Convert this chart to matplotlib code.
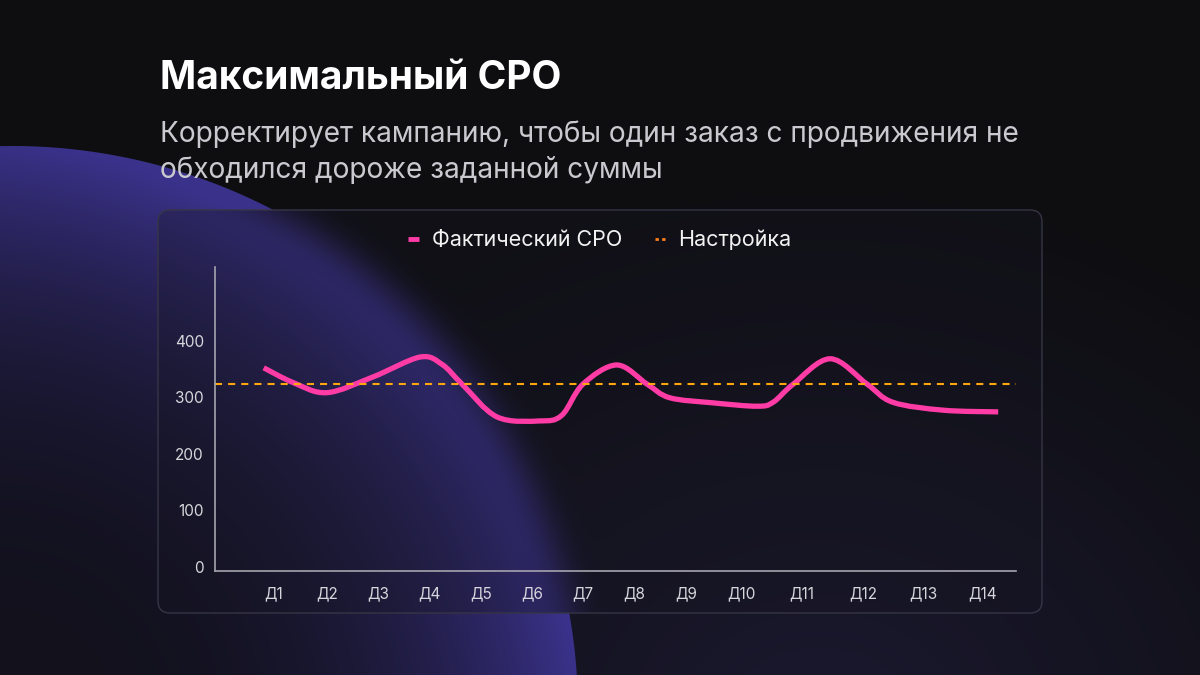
import numpy as np
import matplotlib
matplotlib.use("Agg")
from matplotlib import pyplot as plt
from matplotlib.path import Path
from matplotlib.patches import PathPatch, FancyBboxPatch
from matplotlib.lines import Line2D

plt.rcParams['font.family'] = ['Inter', 'DejaVu Sans']

# ---- data ----
title = "Максимальный СРО"
subtitle = ["Корректирует кампанию, чтобы один заказ с продвижения не",
            "обходился дороже заданной суммы"]

days = ['Д1', 'Д2', 'Д3', 'Д4', 'Д5', 'Д6', 'Д7', 'Д8', 'Д9', 'Д10',
        'Д11', 'Д12', 'Д13', 'Д14']
day_pos = [1, 2.03, 3.02, 4.02, 5.03, 6.02, 7.01, 8.0, 9.02, 10.1,
           11.27, 12.46, 13.63, 14.79]

cpo_x = [0.80, 1.37, 2.03, 2.93, 3.84, 4.27, 4.66, 5.34, 6.18, 6.60, 7.01,
         7.67, 8.26, 8.70, 9.54, 10.40, 10.71, 11.10, 11.82, 12.54, 13.04,
         14.02, 15.09]
cpo_y = [352, 326, 308, 336, 371, 358, 323, 265, 258, 268, 323,
         357, 323, 299, 290, 284, 291, 323, 368, 323, 291,
         277, 274]
target = 323
yticks = [0, 100, 200, 300, 400]

W, H = 1200, 675
PINK = '#ff3ca6'
ORANGE = '#ffa60d'


def box_blur(a, r, axis):
    pad = [(0, 0)] * a.ndim
    pad[axis] = (r + 1, r)
    p = np.pad(a, pad, mode='edge')
    c = np.cumsum(p, axis=axis)
    n = a.shape[axis]
    hi = np.take(c, np.arange(2 * r + 1, 2 * r + 1 + n), axis=axis)
    lo = np.take(c, np.arange(0, n), axis=axis)
    return (hi - lo) / (2 * r + 1)


def smooth_path(xs, ys):
    pts = np.column_stack([xs, ys]).astype(float)
    n = len(pts)
    verts = [pts[0]]
    codes = [Path.MOVETO]
    for i in range(n - 1):
        p0 = pts[max(i - 1, 0)]
        p1 = pts[i]
        p2 = pts[i + 1]
        p3 = pts[min(i + 2, n - 1)]
        verts += [p1 + (p2 - p0) / 6, p2 - (p3 - p1) / 6, p2]
        codes += [Path.CURVE4] * 3
    return Path(verts, codes)


# ---- background picture (dark slide with purple disc) ----
yy, xx = np.mgrid[0:H, 0:W] + 0.5
dark = np.array([14, 14, 17], float)
glow = np.array([27, 25, 48], float)
d = np.sqrt(((xx - 820) / 680) ** 2 + ((yy - 730) / 560) ** 2)
g = np.clip(1 - d, 0, 1)[..., None] ** 1.1
img = dark + (glow - dark) * g

cx, cy, R = 12, 712, 566
dist = np.sqrt((xx - cx) ** 2 + (yy - cy) ** 2)
mask = np.clip(R - dist + 0.5, 0, 1)[..., None]
dot = 0.7 * (xx - cx) / R - 0.7 * (yy - cy) / R
rim = np.clip(dist / R, 0, 1) ** 2.5
f = np.clip(rim * (0.55 + 0.6 * dot), 0, 1)[..., None]
c_in = np.array([18, 17, 28], float)
c_rim = np.array([58, 50, 138], float)
circle = c_in + (c_rim - c_in) * f
img = img * (1 - mask) + circle * mask

# frosted panel
blur = img.copy()
for _ in range(3):
    blur = box_blur(blur, 16, 0)
    blur = box_blur(blur, 16, 1)
tint = np.array([22, 21, 34], float)
panel = blur * 0.68 + tint * 0.32
px0, px1, py0, py1, rr = 158, 1042, 210, 613, 12
qx = np.clip(np.maximum(px0 + rr - xx, xx - (px1 - rr)), 0, None)
qy = np.clip(np.maximum(py0 + rr - yy, yy - (py1 - rr)), 0, None)
inside = (xx > px0) & (xx < px1) & (yy > py0) & (yy < py1)
pm = (inside & (np.sqrt(qx ** 2 + qy ** 2) <= rr))[..., None]
img = np.where(pm, panel, img)
img = np.clip(img / 255, 0, 1)

fig = plt.figure(figsize=(12, 6.75), dpi=100)
bg = fig.add_axes([0, 0, 1, 1])
bg.imshow(img, extent=(0, W, H, 0), aspect='auto', interpolation='bilinear')
bg.set_xlim(0, W)
bg.set_ylim(H, 0)
bg.axis('off')
bg.add_patch(FancyBboxPatch((px0, py0), px1 - px0, py1 - py0,
                            boxstyle='round,pad=0,rounding_size=12',
                            fc='none', ec='#363545', lw=1))

bg.text(160, 89, title, color='white', fontsize=28, fontweight='bold',
        ha='left', va='baseline')
bg.text(160, 142, subtitle[0], color='#c9c9cf', fontsize=20.2,
        ha='left', va='baseline')
bg.text(160, 178, subtitle[1], color='#c9c9cf', fontsize=20.2,
        ha='left', va='baseline')

# ---- chart ----
ax = fig.add_axes([215 / W, (H - 571) / H, 801 / W, 304 / H])
ax.set_facecolor('none')
ax.set_xlim(-0.148, 15.436)
ax.set_ylim(-7.6, 530.4)
for s in ['top', 'right']:
    ax.spines[s].set_visible(False)
for s in ['left', 'bottom']:
    ax.spines[s].set_color('#a4a4ae')
    ax.spines[s].set_linewidth(1.2)

ax.axhline(target, color=ORANGE, lw=1.5, ls=(0, (3.4, 2.9)))
ax.add_patch(PathPatch(smooth_path(cpo_x, cpo_y), fill=False, ec=PINK,
                       lw=3.8, capstyle='butt', joinstyle='round'))

ax.set_yticks(yticks)
ax.set_xticks(day_pos)
ax.set_xticklabels(days)
ax.tick_params(axis='y', length=0, pad=8, labelsize=11, labelcolor='#d6d6dc')
ax.tick_params(axis='x', length=0, pad=11, labelsize=11, labelcolor='#d6d6dc')

handles = [Line2D([], [], color=PINK, lw=3.5, solid_capstyle='butt'),
           Line2D([], [], color='#ff7f1a', lw=2, ls=(0, (1.2, 1.2)))]
fig.legend(handles, ['Фактический СРО', 'Настройка'], loc='center',
           bbox_to_anchor=(0.5, 1 - 240 / H), ncol=2, frameon=False,
           handlelength=0.5, handletextpad=0.6, columnspacing=1.5,
           fontsize=15.5, labelcolor='#f2f2f2')

fig.savefig('out.png', dpi=100)
